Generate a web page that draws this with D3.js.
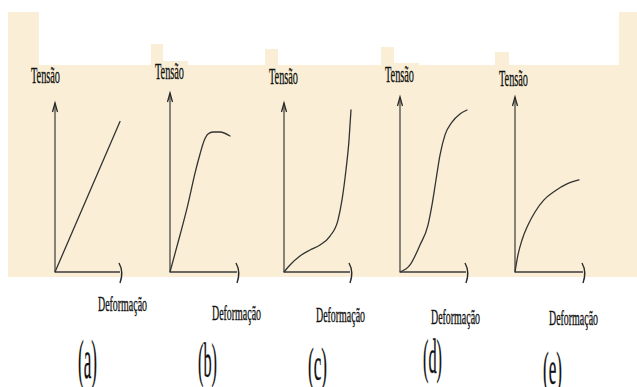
<!DOCTYPE html>
<html><head><meta charset="utf-8">
<script src="https://cdn.jsdelivr.net/npm/d3@7"></script>
<style>html,body{margin:0;padding:0;background:#fff;}svg{display:block;}</style>
</head><body>
<script>
// ---- data ----
const panelNames = ["(a)", "(b)", "(c)", "(d)", "(e)"];
const yAxisLabel = "Tensão";
const xAxisLabel = "Deformação";
// deformation (x) and tension (y) values, normalised 0..10
const defA = [0, 9.85];
const tenA = [0, 8.75];
const defB = [0, 1.52, 2.73, 3.79, 4.55, 5.15, 5.76, 6.52, 7.58, 9.09];
const tenB = [0, 2.15, 3.95, 5.75, 6.86, 7.62, 8.02, 8.14, 8.14, 7.91];
const defC = [0, 0.91, 2.42, 3.94, 5.45, 6.97, 8.18, 8.79, 9.39, 9.85, 10.15];
const tenC = [0, 0.41, 0.93, 1.28, 1.57, 2.09, 3.02, 4.19, 5.93, 7.67, 9.42];
const defD = [0, 1.52, 3.03, 4.24, 4.85, 5.45, 6.06, 6.82, 7.88, 9.09, 10.15];
const tenD = [0, 0.41, 1.57, 2.73, 3.90, 5.35, 6.80, 7.97, 8.72, 9.19, 9.42];
const defE = [0, 0.45, 1.06, 1.97, 3.03, 4.39, 6.06, 7.88, 9.70];
const tenE = [0, 0.99, 1.86, 2.73, 3.49, 4.19, 4.71, 5.12, 5.35];
const seriesDef = [defA, defB, defC, defD, defE];
const seriesTen = [tenA, tenB, tenC, tenD, tenE];

// ---- layout (pixels) ----
const W = 637, H = 387;
const layout = [
  {ox: 55,  oy: 272, yTop: 103, xEnd: 120, tx: 31,  ty: 83, dx: 98,  dy: 311, px: 78,  py: 378, pf: 54},
  {ox: 170, oy: 272, yTop: 93,  xEnd: 237, tx: 155, ty: 79, dx: 212, dy: 320, px: 198, py: 377, pf: 48},
  {ox: 284, oy: 272, yTop: 103, xEnd: 350, tx: 269, ty: 84, dx: 316, dy: 322, px: 308, py: 380, pf: 46},
  {ox: 400, oy: 272, yTop: 97,  xEnd: 466, tx: 385, ty: 82, dx: 431, dy: 324, px: 423, py: 373, pf: 48},
  {ox: 515, oy: 272, yTop: 97,  xEnd: 583, tx: 499, ty: 86, dx: 549, dy: 325, px: 543, py: 384, pf: 46}
];
const bgRects = [
  [8, 65, 629, 212],
  [8, 12, 31, 53],
  [619, 12, 18, 265],
  [151, 44, 12, 21], [151, 61, 37, 4],
  [265, 49, 13, 16],
  [381, 47, 13, 18], [381, 63, 38, 2],
  [495, 52, 14, 13]
];

const svg = d3.select("body").append("svg").attr("width", W).attr("height", H);
svg.append("rect").attr("width", W).attr("height", H).attr("fill", "#ffffff");

const bg = svg.append("g");
bg.selectAll("rect").data(bgRects).join("rect")
  .attr("x", d => d[0]).attr("y", d => d[1]).attr("width", d => d[2]).attr("height", d => d[3])
  .attr("fill", "#faefd6");

const ink = "#2a2a2a";
const font = "'Liberation Serif','Times New Roman',serif";

layout.forEach((L, i) => {
  const x = d3.scaleLinear().domain([0, 10]).range([L.ox, L.ox + 66]);
  const y = d3.scaleLinear().domain([0, 10]).range([L.oy, 100]);
  const g = svg.append("g");
  // axes
  g.append("line").attr("x1", L.ox).attr("y1", L.oy).attr("x2", L.ox).attr("y2", L.yTop)
    .attr("stroke", "#3a3a3a").attr("stroke-width", 1.2);
  g.append("line").attr("x1", L.ox).attr("y1", L.oy).attr("x2", L.xEnd).attr("y2", L.oy)
    .attr("stroke", "#3a3a3a").attr("stroke-width", 1.6);
  // y arrow head (caret)
  g.append("path")
    .attr("d", `M${L.ox - 2.5},${L.yTop + 9} L${L.ox},${L.yTop} L${L.ox + 2.5},${L.yTop + 9}`)
    .attr("fill", "none").attr("stroke", ink).attr("stroke-width", 1.3);
  // x arrow head ( ")" shape )
  g.append("path")
    .attr("d", `M${L.xEnd - 1},${L.oy - 9} Q${L.xEnd + 4},${L.oy} ${L.xEnd},${L.oy + 11}`)
    .attr("fill", "none").attr("stroke", ink).attr("stroke-width", 1.4);
  // curve
  const pts = seriesDef[i].map((d, j) => [d, seriesTen[i][j]]);
  const line = d3.line().x(d => x(d[0])).y(d => y(d[1])).curve(pts.length > 2 ? d3.curveMonotoneX : d3.curveLinear);
  g.append("path").attr("d", line(pts)).attr("fill", "none")
    .attr("stroke", "#333").attr("stroke-width", 1.3).attr("stroke-linecap", "round");
  // labels
  g.append("text").attr("x", L.tx).attr("y", L.ty).text(yAxisLabel)
    .attr("font-family", font).attr("font-size", 24).attr("fill", "#111")
    .attr("stroke", "#111").attr("stroke-width", 0.35)
    .attr("textLength", 29).attr("lengthAdjust", "spacingAndGlyphs");
  g.append("text").attr("x", L.dx).attr("y", L.dy).text(xAxisLabel)
    .attr("font-family", font).attr("font-size", 20).attr("fill", "#111")
    .attr("stroke", "#111").attr("stroke-width", 0.35)
    .attr("textLength", 49).attr("lengthAdjust", "spacingAndGlyphs");
  g.append("text").attr("x", L.px).attr("y", L.py).text(panelNames[i])
    .attr("font-family", font).attr("font-size", L.pf).attr("fill", "#111")
    .attr("stroke", "#111").attr("stroke-width", 0.3)
    .attr("textLength", 19).attr("lengthAdjust", "spacingAndGlyphs");
});
</script>
</body></html>
